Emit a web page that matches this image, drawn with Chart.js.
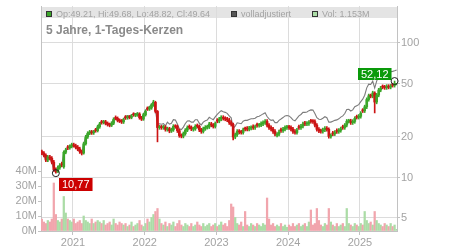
<!DOCTYPE html>
<html>
<head>
<meta charset="utf-8">
<script src="https://cdn.jsdelivr.net/npm/chart.js@4.4.2/dist/chart.umd.min.js"></script>
<style>
  html, body { margin: 0; padding: 0; background: #fff; }
  #wrap { width: 450px; height: 250px; }
</style>
</head>
<body>
<div id="wrap"><canvas id="chart" width="450" height="250"></canvas></div>
<script>
const DATES = [
  '2020-07-25',
  '2020-08-05','2020-08-15','2020-08-25','2020-09-05','2020-09-15','2020-09-25','2020-10-05','2020-10-15','2020-10-25',
  '2020-11-05','2020-11-15','2020-11-25','2020-12-05','2020-12-15','2020-12-25',
  '2021-01-05','2021-01-15','2021-01-25','2021-02-05','2021-02-15','2021-02-25','2021-03-05','2021-03-15','2021-03-25',
  '2021-04-05','2021-04-15','2021-04-25','2021-05-05','2021-05-15','2021-05-25','2021-06-05','2021-06-15','2021-06-25',
  '2021-07-05','2021-07-15','2021-07-25','2021-08-05','2021-08-15','2021-08-25','2021-09-05','2021-09-15','2021-09-25',
  '2021-10-05','2021-10-15','2021-10-25','2021-11-05','2021-11-15','2021-11-25','2021-12-05','2021-12-15','2021-12-25',
  '2022-01-05','2022-01-15','2022-01-25','2022-02-05','2022-02-15','2022-02-25','2022-03-05','2022-03-15','2022-03-25',
  '2022-04-05','2022-04-15','2022-04-25','2022-05-05','2022-05-15','2022-05-25','2022-06-05','2022-06-15','2022-06-25',
  '2022-07-05','2022-07-15','2022-07-25','2022-08-05','2022-08-15','2022-08-25','2022-09-05','2022-09-15','2022-09-25',
  '2022-10-05','2022-10-15','2022-10-25','2022-11-05','2022-11-15','2022-11-25','2022-12-05','2022-12-15','2022-12-25',
  '2023-01-05','2023-01-15','2023-01-25','2023-02-05','2023-02-15','2023-02-25','2023-03-05','2023-03-15','2023-03-25',
  '2023-04-05','2023-04-15','2023-04-25','2023-05-05','2023-05-15','2023-05-25','2023-06-05','2023-06-15','2023-06-25',
  '2023-07-05','2023-07-15','2023-07-25','2023-08-05','2023-08-15','2023-08-25','2023-09-05','2023-09-15','2023-09-25',
  '2023-10-05','2023-10-15','2023-10-25','2023-11-05','2023-11-15','2023-11-25','2023-12-05','2023-12-15','2023-12-25',
  '2024-01-05','2024-01-15','2024-01-25','2024-02-05','2024-02-15','2024-02-25','2024-03-05','2024-03-15','2024-03-25',
  '2024-04-05','2024-04-15','2024-04-25','2024-05-05','2024-05-15','2024-05-25','2024-06-05','2024-06-15','2024-06-25',
  '2024-07-05','2024-07-15','2024-07-25','2024-08-05','2024-08-15','2024-08-25','2024-09-05','2024-09-15','2024-09-25',
  '2024-10-05','2024-10-15','2024-10-25','2024-11-05','2024-11-15','2024-11-25','2024-12-05','2024-12-15','2024-12-25',
  '2025-01-05','2025-01-15','2025-01-25','2025-02-05','2025-02-15','2025-02-25','2025-03-05','2025-03-15','2025-03-25',
  '2025-04-05','2025-04-15','2025-04-25','2025-05-05','2025-05-15','2025-05-25','2025-06-05','2025-06-15','2025-06-25',
  '2025-07-05'
];

const OPEN = [
  15.6,15.2,14.6,13.5,14.2,13.9,13.0,11.4,11.0,11.8,
  12.6,12.0,15.4,16.8,16.6,17.0,17.5,17.2,16.8,16.3,
  15.6,15.2,17.8,20.0,21.3,21.8,21.5,22.6,22.3,23.8,
  25.9,25.6,25.9,25.3,24.8,24.5,25.3,27.9,27.5,26.6,
  26.3,25.9,28.1,27.8,28.2,28.0,29.5,29.0,29.2,29.6,
  27.8,27.2,29.2,32.6,32.3,32.9,34.5,36.2,31.0,23.5,
  23.7,23.5,23.7,22.8,23.0,22.2,22.6,24.0,23.9,22.3,
  20.5,20.3,21.2,22.5,23.9,23.6,22.8,23.0,24.3,24.0,
  22.6,22.0,23.0,23.6,23.8,25.0,24.5,24.0,26.6,26.3,
  27.2,28.0,27.5,27.2,26.8,25.6,24.8,20.0,20.8,22.0,
  21.8,21.6,23.0,23.2,22.9,23.3,23.9,23.5,24.7,24.4,
  24.6,25.1,25.6,26.1,24.5,23.5,22.9,22.0,20.6,21.0,
  22.6,22.3,22.9,23.5,23.7,23.5,22.9,22.0,21.6,23.8,
  23.5,24.1,25.4,25.0,25.2,26.3,26.1,26.0,24.5,22.8,
  22.2,22.1,22.6,23.2,22.8,20.2,21.4,21.1,22.3,22.0,
  22.4,23.8,23.5,24.5,26.2,26.3,25.6,26.1,28.3,28.0,
  28.5,31.6,31.3,33.5,38.0,40.5,40.3,42.5,36.4,41.0,
  44.7,47.4,47.0,46.6,47.6,47.0,48.7,48.4,49.21
];
const HIGH = [
  16.0,15.6,15.0,14.6,14.6,14.3,13.4,11.8,12.2,12.7,
  13.0,15.8,16.5,17.3,17.5,18.0,18.0,17.7,17.3,16.8,
  16.0,18.3,20.6,21.9,22.4,22.4,22.4,23.2,24.5,25.7,
  26.6,26.6,26.6,25.9,25.4,26.0,27.8,28.7,28.2,27.3,
  27.0,27.6,28.9,28.9,28.9,29.4,30.3,30.0,30.4,30.3,
  28.5,30.0,31.8,33.5,33.8,35.4,37.5,36.9,31.5,24.4,
  24.4,24.4,24.3,23.7,23.6,23.3,24.7,24.7,24.5,22.9,
  21.1,21.8,23.1,24.2,24.6,24.2,23.7,24.7,25.0,24.6,
  23.2,23.7,24.3,24.5,25.7,25.7,25.2,25.9,27.4,28.0,
  28.8,28.8,28.3,28.0,27.6,26.4,25.4,21.4,22.7,22.7,
  22.4,23.3,23.7,23.9,24.0,24.2,24.6,24.5,25.4,25.3,
  25.9,26.4,26.9,26.9,25.2,24.2,23.6,22.7,21.6,22.5,
  23.3,23.6,24.2,24.4,24.4,24.2,23.6,22.7,23.2,24.5,
  24.8,25.8,26.2,26.0,26.5,27.1,26.9,26.8,25.2,23.5,
  22.9,23.3,23.9,23.9,23.4,21.1,22.0,22.3,23.0,23.1,
  23.7,24.5,25.2,27.0,27.1,27.1,26.9,28.3,29.1,29.4,
  30.9,32.5,34.5,39.1,41.7,41.7,43.8,43.4,42.2,46.0,
  47.6,48.8,48.4,49.0,49.0,49.2,50.2,52.12,49.68
];
const LOW = [
  14.8,14.2,13.1,13.1,13.5,12.6,11.1,10.77,10.9,11.5,
  12.0,11.7,15.0,16.1,16.2,16.6,16.8,16.3,15.8,15.1,
  14.7,14.9,17.4,19.5,20.8,20.9,20.9,21.7,21.8,23.2,
  24.9,25.0,24.6,24.1,23.8,23.9,24.7,26.8,25.9,25.6,
  25.2,25.2,27.0,27.1,27.3,27.3,28.5,28.3,28.5,27.1,
  26.5,26.6,28.6,31.5,31.5,32.1,33.8,30.2,18.4,22.8,
  22.8,22.8,22.1,22.1,21.5,21.6,22.0,23.2,21.6,19.9,
  19.7,19.7,20.6,21.9,22.9,22.3,22.1,22.4,23.3,21.9,
  21.3,21.4,22.4,22.9,23.1,23.8,23.3,23.3,25.5,25.5,
  26.4,26.7,26.4,26.0,24.8,24.1,19.0,19.4,20.2,21.1,
  21.0,21.0,22.2,22.2,22.2,22.6,22.8,22.8,23.7,23.7,
  23.9,24.3,24.8,23.8,22.8,22.2,21.3,20.4,20.0,20.4,
  21.6,21.6,22.2,22.8,22.8,22.2,21.3,21.0,21.0,22.8,
  22.8,23.4,24.3,24.3,24.4,25.3,25.2,23.8,22.1,21.5,
  21.4,21.4,21.9,22.1,19.6,19.6,20.5,20.5,21.3,21.3,
  21.7,22.8,22.8,23.8,25.4,24.8,24.8,25.3,27.2,27.2,
  27.6,30.4,30.4,32.5,36.9,39.1,39.1,30.2,35.3,39.8,
  43.4,45.6,45.2,45.2,45.6,45.6,47.0,47.0,48.82
];
const CLOSE = [
  15.2,14.6,13.5,14.2,13.9,13.0,11.4,11.0,11.8,12.3,
  12.4,15.4,16.0,16.6,17.0,17.5,17.2,16.8,16.3,15.6,
  15.2,17.8,20.0,21.3,21.8,21.5,21.8,22.3,23.8,25.0,
  25.6,25.9,25.3,24.8,24.5,25.3,27.0,27.5,26.6,26.3,
  25.9,26.9,27.8,28.2,28.0,28.6,29.2,29.2,29.6,27.8,
  27.2,29.2,31.0,32.3,32.9,34.5,36.2,31.0,23.5,23.7,
  23.5,23.7,22.8,23.0,22.2,22.6,24.0,23.9,22.3,20.5,
  20.3,21.2,22.5,23.5,23.6,23.0,23.0,24.0,24.0,22.6,
  22.0,23.0,23.6,23.8,25.0,24.5,24.0,25.2,26.3,27.2,
  28.0,27.5,27.2,26.8,25.6,24.8,20.0,20.8,22.0,21.8,
  21.6,22.6,22.9,22.9,23.3,23.5,23.5,23.8,24.4,24.6,
  25.1,25.6,26.1,24.5,23.5,22.9,22.0,21.0,21.0,21.8,
  22.3,22.9,23.5,23.7,23.5,22.9,22.0,21.6,22.5,23.5,
  24.1,25.0,25.0,25.2,25.7,26.1,26.0,24.5,22.8,22.2,
  22.1,22.6,23.2,22.8,20.2,20.5,21.1,21.6,22.0,22.4,
  23.0,23.5,24.5,26.2,26.3,25.6,26.1,27.5,28.0,28.5,
  30.0,31.3,33.5,38.0,40.5,40.3,42.5,36.4,41.0,44.7,
  46.2,47.0,46.6,47.6,47.0,47.8,48.4,48.9,49.64
];
// volladjustiert (grey line)
const ADJ = [
  15.2,14.6,13.5,14.2,13.9,13.0,11.4,11.0,11.8,12.3,
  12.4,15.4,16.0,16.6,17.0,17.5,17.2,16.8,16.3,15.6,
  15.2,17.8,20.0,21.3,21.8,21.5,21.8,22.3,23.8,25.0,
  25.6,25.9,25.3,24.8,24.5,25.3,27.0,27.5,26.6,26.3,
  25.9,27.4,28.4,28.8,28.6,29.2,29.8,29.8,30.2,28.4,
  27.7,29.8,31.6,32.9,33.6,35.2,36.9,31.6,24.9,25.1,
  24.9,25.1,24.2,25.8,24.9,25.3,26.9,26.8,25.0,23.0,
  22.7,23.7,25.2,26.3,26.4,25.8,25.8,26.9,26.9,25.3,
  24.6,25.8,26.4,26.7,28.0,27.4,26.9,28.2,29.5,30.5,
  31.4,30.8,30.5,30.0,28.7,27.8,23.2,24.1,25.5,25.3,
  25.1,26.2,26.6,26.6,27.0,27.3,27.3,27.6,28.3,28.5,
  29.1,29.7,30.3,28.4,27.3,26.6,26.8,25.6,25.6,26.6,
  27.2,27.9,28.7,28.9,28.7,27.9,26.8,26.4,27.5,28.7,
  29.4,30.5,30.5,30.7,31.4,31.8,31.7,29.9,27.8,27.1,
  27.0,27.6,28.3,27.8,25.8,25.8,26.2,26.6,26.8,27.3,
  28.1,28.7,29.9,32.0,32.1,31.2,31.8,33.6,34.2,34.8,
  36.6,38.2,40.9,46.4,49.4,49.2,52.0,46.2,52.1,56.8,
  58.7,60.5,60.1,61.4,60.6,61.2,61.5,62.1,63.0
];
// volume in millions
const VOLUME = [
  8,6,5,7,6,8,32,11,7,6,
  8,23,12,8,7,6,8,5,6,7,
  5,10,7,6,5,8,5,6,7,6,
  5,7,4,5,6,4,8,5,4,6,
  5,4,5,3,4,6,3,4,5,7,
  4,3,5,8,6,9,11,13,15,8,
  5,4,6,3,5,4,6,3,5,7,
  4,3,5,4,3,5,3,4,6,4,
  3,5,3,4,5,3,4,5,3,4,
  6,4,5,3,7,18,16,9,5,4,
  6,3,13,4,3,5,4,3,5,4,
  3,5,4,22,8,4,5,3,4,3,
  5,3,4,2.5,4,3,5,3,4,5,
  3,4,5,3,6,14,4,5,15,7,
  4,3,5,4,15,6,4,3,5,3,
  4,5,3,15,5,4,3,5,4,3,
  5,4,13,7,5,6,4,13,7,5,
  4,3,5,4,3,5,3,4,1.153
];

const YEAR_TICKS = [2021, 2022, 2023, 2024, 2025];
const PRICE_TICKS = [5, 10, 20, 50, 100];
const VOL_TICKS = [0, 10, 20, 30, 40];

const FONT = "'Liberation Sans', Arial, sans-serif";
const TXT = '#a3a3a3';
const GRID = '#dcdcdc';
const AXIS = '#c2c2c2';
const RED = '#cc1414', GREEN = '#3ba72a';
const VOL_RED = '#f1a5ad', VOL_GREEN = '#abdca6';

const toYear = s => {
  const [y, m, d] = s.split('-').map(Number);
  return y + (m - 1) / 12 + (d - 1) / 365;
};
const xs = DATES.map(toYear);
const isUp = OPEN.map((o, i) => CLOSE[i] >= o);
const last = CLOSE.length - 1;
const fmt = v => v.toFixed(2).replace('.', ',');

const overlay = {
  id: 'overlay',
  beforeDraw(chart) {
    const { ctx, chartArea: a } = chart;
    ctx.save();
    ctx.fillStyle = '#e4e4e4';
    ctx.fillRect(a.left, 7, a.right - a.left, 11);
    ctx.restore();
  },
  afterDatasetsDraw(chart) {
    const { ctx, scales } = chart;
    const iMin = LOW.indexOf(Math.min(...LOW));
    const iMax = HIGH.indexOf(Math.max(...HIGH));
    ctx.save();
    ctx.font = `11px ${FONT}`;
    ctx.textBaseline = 'middle';
    ctx.textAlign = 'center';

    // lowest low
    let cx = scales.x.getPixelForValue(xs[iMin]);
    let cy = scales.y.getPixelForValue(LOW[iMin]);
    ctx.strokeStyle = '#222'; ctx.lineWidth = 1;
    ctx.beginPath(); ctx.arc(cx, cy, 3.5, 0, Math.PI * 2); ctx.stroke();
    let txt = fmt(LOW[iMin]);
    let w = ctx.measureText(txt).width + 6;
    ctx.fillStyle = '#cc0000';
    ctx.fillRect(Math.round(cx + 3), Math.round(cy + 5), w, 13);
    ctx.fillStyle = '#fff';
    ctx.fillText(txt, Math.round(cx + 3) + w / 2, Math.round(cy + 5) + 7);

    // highest high
    cx = scales.x.getPixelForValue(xs[iMax]);
    cy = scales.y.getPixelForValue(HIGH[iMax]);
    ctx.beginPath(); ctx.arc(cx, cy, 3.5, 0, Math.PI * 2); ctx.stroke();
    txt = fmt(HIGH[iMax]);
    w = ctx.measureText(txt).width + 6;
    ctx.fillStyle = '#0a9a0a';
    ctx.fillRect(Math.round(cx - 3 - w), Math.round(cy - 13), w, 12);
    ctx.fillStyle = '#fff';
    ctx.fillText(txt, Math.round(cx - 3 - w) + w / 2, Math.round(cy - 13) + 6.5);
    ctx.restore();
  },
  afterDraw(chart) {
    const { ctx } = chart;
    ctx.save();
    // title
    ctx.font = `bold 12px ${FONT}`;
    ctx.fillStyle = '#8a8a8a';
    ctx.textBaseline = 'alphabetic';
    ctx.fillText('5 Jahre, 1-Tages-Kerzen', 46, 34);

    // legend row
    const items = [
      { x: 46, fill: GREEN, text: `Op:${OPEN[last].toFixed(2)}, Hi:${HIGH[last].toFixed(2)}, Lo:${LOW[last].toFixed(2)}, Cl:${CLOSE[last].toFixed(2)}` },
      { x: 231, fill: '#555', text: 'volladjustiert' },
      { x: 312, fill: VOL_GREEN, text: `Vol: ${VOLUME[last].toFixed(3)}M` },
    ];
    ctx.font = `9px ${FONT}`;
    items.forEach(it => {
      ctx.fillStyle = it.fill;
      ctx.fillRect(it.x, 11, 6, 6);
      ctx.strokeStyle = '#333';
      ctx.lineWidth = 1;
      ctx.strokeRect(it.x + 0.5, 11.5, 5, 5);
      ctx.fillStyle = TXT;
      ctx.fillText(it.text, it.x + 10, 17);
    });
    ctx.restore();
  },
};

const tickFont = { family: FONT, size: 11 };

new Chart(document.getElementById('chart'), {
  type: 'bar',
  data: {
    datasets: [
      {
        label: 'Vol',
        data: xs.map((x, i) => ({ x, y: VOLUME[i] })),
        yAxisID: 'yv',
        backgroundColor: isUp.map(u => (u ? VOL_GREEN : VOL_RED)),
        barThickness: 1.6,
        grouped: false,
        order: 3,
      },
      {
        type: 'line',
        label: 'volladjustiert',
        data: xs.map((x, i) => ({ x, y: ADJ[i] })),
        yAxisID: 'y',
        borderColor: '#7c7c7c',
        borderWidth: 1.1,
        pointRadius: 0,
        tension: 0,
        order: 2,
      },
      {
        label: 'wicks',
        data: xs.map((x, i) => ({ x, y: [LOW[i], HIGH[i]] })),
        yAxisID: 'y',
        backgroundColor: isUp.map(u => (u ? GREEN : RED)),
        barThickness: 1,
        grouped: false,
        order: 1,
      },
      {
        label: 'bodies',
        data: xs.map((x, i) => ({ x, y: [OPEN[i], CLOSE[i]] })),
        yAxisID: 'y',
        backgroundColor: isUp.map(u => (u ? GREEN : RED)),
        barThickness: 2,
        minBarLength: 1,
        grouped: false,
        order: 0,
      },
    ],
  },
  options: {
    responsive: false,
    animation: false,
    devicePixelRatio: 1,
    events: [],
    layout: { padding: { top: 6, left: 0, right: 0, bottom: 0 } },
    plugins: { legend: { display: false }, tooltip: { enabled: false } },
    scales: {
      x: {
        type: 'linear',
        min: 2020.554,
        max: 2025.516,
        bounds: 'data',
        offset: false,
        grid: { color: GRID, offset: false, tickLength: 4, tickColor: AXIS },
        border: { color: AXIS },
        ticks: { color: TXT, font: tickFont, padding: 1, autoSkip: false, maxRotation: 0, callback: v => String(v) },
        afterBuildTicks: s => { s.ticks = YEAR_TICKS.map(v => ({ value: v })); },
        afterFit: s => { s.height = 19; s.paddingLeft = 0; s.paddingRight = 0; },
      },
      y: {
        type: 'logarithmic',
        position: 'right',
        min: 4.0,
        max: 188.4,
        bounds: 'data',
        grid: { color: GRID, tickLength: 3, tickColor: AXIS },
        border: { color: AXIS },
        ticks: { color: TXT, font: tickFont, padding: 1, autoSkip: false, callback: v => String(v) },
        afterBuildTicks: s => { s.ticks = PRICE_TICKS.map(v => ({ value: v })); },
        afterFit: s => { s.width = 53; s.paddingTop = 0; s.paddingBottom = 0; },
      },
      yv: {
        type: 'linear',
        position: 'left',
        min: 0,
        max: 150,
        bounds: 'data',
        grid: { drawOnChartArea: false, tickLength: 3, tickColor: AXIS },
        border: { color: AXIS },
        ticks: { color: TXT, font: tickFont, padding: 1, autoSkip: false, callback: v => v + 'M' },
        afterBuildTicks: s => { s.ticks = VOL_TICKS.map(v => ({ value: v })); },
        afterFit: s => { s.width = 41; s.paddingTop = 0; s.paddingBottom = 0; },
      },
    },
  },
  plugins: [overlay],
});
</script>
</body>
</html>
